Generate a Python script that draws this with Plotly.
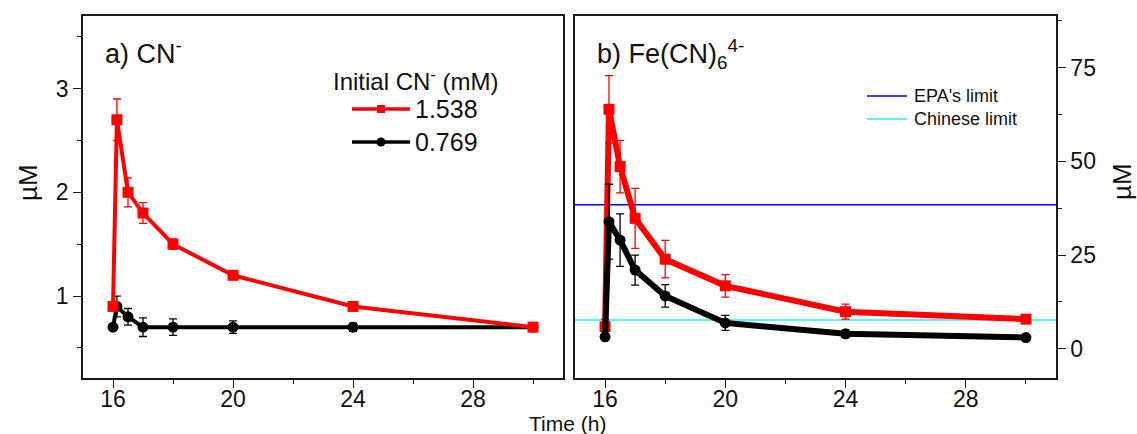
import plotly.graph_objects as go

# Sampling times (h)
time_h = [16, 16.13, 16.5, 17, 18, 20, 24, 30]

# a) free cyanide, µM
cn_high = [0.9, 2.7, 2.0, 1.8, 1.5, 1.2, 0.9, 0.7]
cn_high_err = [0.02, 0.2, 0.14, 0.1, 0.05, 0.03, 0.03, 0.03]
cn_low = [0.7, 0.9, 0.8, 0.7, 0.7, 0.7, 0.7, 0.7]
cn_low_err = [0.0, 0.1, 0.08, 0.09, 0.08, 0.06, 0.04, 0.03]

# b) ferrocyanide, µM
fe_high = [5.9, 63.9, 48.6, 34.8, 23.9, 16.8, 9.9, 7.9]
fe_high_err = [2, 9, 7, 8, 5, 3, 2, 1]
fe_low = [3.2, 33.9, 29.0, 21.0, 14.1, 6.9, 4.0, 3.0]
fe_low_err = [0, 10, 7, 4, 3, 2, 1, 0.5]

# Regulatory limits, µM
epa_limit = 38.46
chinese_limit = 7.69

series_names = ["1.538", "0.769"]
limit_names = ["EPA's limit", "Chinese limit"]

RED = "#ff0000"
BLACK = "#000000"
BLUE = "#0000ff"
CYAN = "#22f2f2"
FONT = "Arial, Liberation Sans, sans-serif"

W, H = 1137, 434
ML, MR, MT, MB = 83, 81, 16, 56
PW = W - ML - MR
left_dom = [0, (563 - ML) / PW]
right_dom = [(575 - ML) / PW, 1]

fig = go.Figure()


def err(values, color):
    return dict(type="data", array=values, visible=True, color=color,
                thickness=1.3, width=4)


# Panel a: black drawn first so red sits on top
fig.add_trace(go.Scatter(
    x=time_h, y=cn_low, name=series_names[1], mode="lines+markers",
    line=dict(color=BLACK, width=4),
    marker=dict(symbol="circle", size=11, color=BLACK),
    error_y=err(cn_low_err, BLACK), xaxis="x", yaxis="y", showlegend=False))
fig.add_trace(go.Scatter(
    x=time_h, y=cn_high, name=series_names[0], mode="lines+markers",
    line=dict(color=RED, width=4),
    marker=dict(symbol="square", size=11, color=RED),
    error_y=err(cn_high_err, RED), xaxis="x", yaxis="y", showlegend=False))

# Panel b: limits, then red, then black on top
fig.add_trace(go.Scatter(
    x=[15, 31], y=[epa_limit, epa_limit], name=limit_names[0], mode="lines",
    line=dict(color=BLUE, width=1.5), xaxis="x2", yaxis="y2", showlegend=False))
fig.add_trace(go.Scatter(
    x=[15, 31], y=[chinese_limit, chinese_limit], name=limit_names[1], mode="lines",
    line=dict(color=CYAN, width=1.5), xaxis="x2", yaxis="y2", showlegend=False))
fig.add_trace(go.Scatter(
    x=time_h, y=fe_high, name=series_names[0], mode="lines+markers",
    line=dict(color=RED, width=6),
    marker=dict(symbol="square", size=11, color=RED),
    error_y=err(fe_high_err, RED), xaxis="x2", yaxis="y2", showlegend=False))
fig.add_trace(go.Scatter(
    x=time_h, y=fe_low, name=series_names[1], mode="lines+markers",
    line=dict(color=BLACK, width=6),
    marker=dict(symbol="circle", size=11, color=BLACK),
    error_y=err(fe_low_err, BLACK), xaxis="x2", yaxis="y2", showlegend=False))

axis_common = dict(
    showline=True, linecolor="#1a1a1a", linewidth=1.5, mirror=True,
    showgrid=False, zeroline=False, ticks="outside", ticklen=8, tickwidth=1.2,
    tickcolor="#1a1a1a", tickfont=dict(family=FONT, size=23, color="#111"),
)
x_common = dict(axis_common, range=[15, 31], tick0=16, dtick=4,
                ticklabelstandoff=-8,
                minor=dict(ticks="outside", ticklen=4, tick0=16, dtick=2,
                           tickcolor="#1a1a1a"))

fig.update_layout(
    width=W, height=H,
    margin=dict(l=ML, r=MR, t=MT, b=MB),
    paper_bgcolor="white", plot_bgcolor="white",
    font=dict(family=FONT, color="#111"),
    xaxis=dict(x_common, domain=left_dom, anchor="y"),
    yaxis=dict(axis_common, range=[0.21, 3.7], tick0=0, dtick=1, anchor="x",
               minor=dict(ticks="outside", ticklen=4, tick0=0, dtick=0.5,
                          tickcolor="#1a1a1a")),
    xaxis2=dict(x_common, domain=right_dom, anchor="y2"),
    yaxis2=dict(axis_common, range=[-7.8, 88.8], tick0=0, dtick=25,
                anchor="x2", side="right",
                minor=dict(ticks="outside", ticklen=4, tick0=0, dtick=12.5,
                           tickcolor="#1a1a1a")),
    showlegend=False,
)


def px_x(p):
    return (p - ML) / PW


def px_y(p):
    return (H - MB - p) / (H - MT - MB)


annotations = [
    dict(text="a) CN<sup>-</sup>", x=0.0417, y=px_y(52), xref="x domain",
         yref="paper", xanchor="left", yanchor="middle", showarrow=False,
         font=dict(size=27, color="#111", family=FONT)),
    dict(text="b) Fe(CN)<sub>6</sub><sup>4-</sup>", x=0.0416, y=px_y(54),
         xref="x2 domain", yref="paper", xanchor="left", yanchor="middle",
         showarrow=False, font=dict(size=27, color="#111", family=FONT)),
    dict(text="µM", x=px_x(28), y=px_y(183), xref="paper", yref="paper",
         textangle=-90, showarrow=False, xanchor="center", yanchor="middle",
         font=dict(size=26, color="#111", family=FONT)),
    dict(text="µM", x=px_x(1122), y=px_y(182), xref="paper", yref="paper",
         textangle=-90, showarrow=False, xanchor="center", yanchor="middle",
         font=dict(size=26, color="#111", family=FONT)),
    dict(text="Time (h)", x=px_x(567), y=px_y(423), xref="paper", yref="paper",
         showarrow=False, xanchor="center", yanchor="middle",
         font=dict(size=21, color="#111", family=FONT)),
    # legend of panel a
    dict(text="Initial CN<sup>-</sup> (mM)", x=px_x(331), y=px_y(80),
         xref="paper", yref="paper", xanchor="left", yanchor="middle",
         showarrow=False, font=dict(size=24, color="#111", family=FONT)),
    dict(text=series_names[0], x=px_x(413), y=px_y(109), xref="paper",
         yref="paper", xanchor="left", yanchor="middle", showarrow=False,
         font=dict(size=25, color="#111", family=FONT)),
    dict(text=series_names[1], x=px_x(413), y=px_y(142), xref="paper",
         yref="paper", xanchor="left", yanchor="middle", showarrow=False,
         font=dict(size=25, color="#111", family=FONT)),
    # legend of panel b
    dict(text=limit_names[0], x=px_x(912), y=px_y(96), xref="paper",
         yref="paper", xanchor="left", yanchor="middle", showarrow=False,
         font=dict(size=18, color="#111", family=FONT)),
    dict(text=limit_names[1], x=px_x(912), y=px_y(119), xref="paper",
         yref="paper", xanchor="left", yanchor="middle", showarrow=False,
         font=dict(size=18, color="#111", family=FONT)),
]

shapes = [
    # legend samples, panel a
    dict(type="line", xref="paper", yref="paper", x0=px_x(352), x1=px_x(410),
         y0=px_y(109), y1=px_y(109), line=dict(color=RED, width=3.5)),
    dict(type="rect", xref="paper", yref="paper", x0=px_x(377), x1=px_x(385),
         y0=px_y(113), y1=px_y(105), fillcolor=RED, line=dict(width=0)),
    dict(type="line", xref="paper", yref="paper", x0=px_x(352), x1=px_x(410),
         y0=px_y(142), y1=px_y(142), line=dict(color=BLACK, width=3.5)),
    dict(type="circle", xref="paper", yref="paper", x0=px_x(376.5), x1=px_x(385.5),
         y0=px_y(146.5), y1=px_y(137.5), fillcolor=BLACK, line=dict(width=0)),
    # legend samples, panel b
    dict(type="line", xref="paper", yref="paper", x0=px_x(867), x1=px_x(907),
         y0=px_y(96), y1=px_y(96), line=dict(color=BLUE, width=1.5)),
    dict(type="line", xref="paper", yref="paper", x0=px_x(867), x1=px_x(907),
         y0=px_y(119), y1=px_y(119), line=dict(color=CYAN, width=1.5)),
]

fig.update_layout(annotations=annotations, shapes=shapes)

fig.write_html("out.html")
